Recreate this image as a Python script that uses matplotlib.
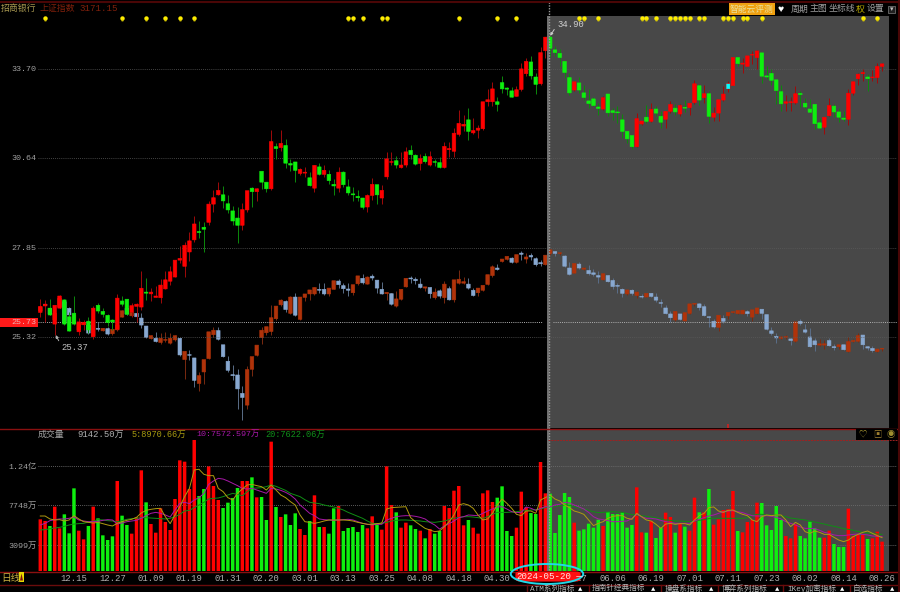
import matplotlib
matplotlib.use("Agg")
import matplotlib.pyplot as plt
import numpy as np
from matplotlib.lines import Line2D
from matplotlib.patches import Ellipse, Rectangle, FancyBboxPatch, Polygon
from matplotlib.transforms import blended_transform_factory

plt.rcParams['font.family'] = ['Liberation Mono', 'Noto Sans CJK SC', 'DejaVu Sans']

stock_open = [25.99,26.17,26.11,25.67,26.11,26.34,25.87,25.97,25.46,25.65,
25.75,25.33,26.19,26.02,25.91,25.78,25.53,26.31,26.36,26.00,
26.16,26.14,26.56,26.51,26.41,26.40,26.65,26.87,26.99,27.48,
27.30,27.72,28.08,28.33,28.46,28.61,29.17,29.46,29.46,29.18,
28.96,28.74,28.52,28.99,29.67,29.56,30.21,29.86,29.65,31.01,
30.98,31.05,30.46,30.51,30.14,30.15,30.00,29.67,30.35,30.11,
30.11,29.79,29.67,30.18,29.71,29.49,29.41,29.36,29.08,29.44,
29.78,29.36,30.03,30.50,30.55,30.33,30.41,30.89,30.73,30.46,
30.69,30.41,30.52,30.49,30.33,30.91,30.86,31.42,31.70,31.91,
31.47,31.56,31.61,32.53,32.53,32.53,33.20,33.01,32.91,32.72,
32.96,33.52,33.94,33.40,33.16,34.35,34.85,34.38,34.25,33.96,
33.38,32.94,33.19,32.84,32.56,32.63,32.35,32.28,32.80,32.22,
32.18,31.91,31.52,31.38,31.01,31.77,32.00,31.86,32.28,32.03,
31.93,32.20,32.31,32.11,32.34,32.33,32.50,33.09,32.67,32.81,
32.00,32.14,32.59,32.98,33.10,34.10,33.86,33.78,34.19,34.10,
34.27,33.44,33.53,33.30,32.88,32.48,32.50,32.49,32.82,32.48,
32.28,32.44,31.81,31.66,32.05,32.38,32.18,31.97,31.93,32.83,
33.34,33.52,33.40,33.38,33.38,33.78]
stock_close = [26.16,26.22,25.92,26.19,26.45,25.67,25.48,25.67,25.73,25.72,
25.51,26.11,26.03,25.94,25.71,25.73,26.39,26.22,25.94,26.18,
26.22,26.67,26.53,26.56,26.45,26.76,26.91,27.14,27.48,27.53,
27.92,28.05,28.56,28.30,28.40,29.17,29.37,29.60,29.27,28.99,
28.65,28.52,29.00,29.59,29.56,29.65,29.86,29.65,31.18,30.95,
31.12,30.47,30.41,30.24,30.27,30.18,29.75,30.40,30.11,30.24,
29.91,29.74,30.18,29.78,29.52,29.46,29.37,29.07,29.44,29.79,
29.46,29.60,30.61,30.52,30.41,30.41,30.84,30.75,30.44,30.62,
30.52,30.68,30.50,30.33,31.02,30.95,31.46,31.79,31.76,31.52,
31.55,31.63,32.53,32.60,32.98,32.44,32.98,32.97,32.69,32.95,
33.69,33.96,33.44,33.14,34.28,34.85,34.44,34.28,34.10,33.56,
32.84,33.23,32.94,32.68,32.47,32.40,32.30,32.67,32.15,32.16,
32.15,31.52,31.27,31.01,31.95,31.87,31.86,32.27,32.14,31.83,
32.20,32.44,32.18,32.40,32.31,32.48,33.16,32.59,32.81,32.03,
32.14,32.60,32.80,33.16,34.10,33.88,33.90,34.16,34.21,34.34,
33.43,33.40,33.28,32.92,32.46,32.53,32.53,32.81,32.78,32.35,
32.17,31.78,31.63,32.00,32.40,32.18,32.00,31.93,32.83,33.23,
33.50,33.56,33.34,33.40,33.78,33.87]
stock_high = [26.36,26.34,26.36,26.19,26.48,26.36,26.00,26.45,25.84,25.78,
25.86,26.16,26.25,26.11,25.94,25.81,26.51,26.45,26.37,26.25,
26.25,27.16,26.97,26.68,26.74,26.94,27.15,27.32,27.49,27.90,
28.01,28.31,28.80,28.66,28.61,29.27,29.60,29.85,29.74,29.44,
29.11,29.08,29.21,29.59,29.71,29.68,30.21,29.88,31.56,31.12,
31.57,31.26,30.60,30.51,30.30,30.35,30.18,30.40,30.49,30.40,
30.24,29.97,30.35,30.21,29.97,29.71,29.60,29.36,29.49,30.00,
29.78,29.78,30.84,30.84,30.69,30.84,31.01,31.08,30.78,30.78,
30.81,30.86,30.62,30.67,31.18,31.18,31.63,32.24,32.06,32.32,
31.97,31.74,32.53,32.96,33.23,32.69,33.44,33.05,33.05,33.08,
33.92,34.10,34.16,33.56,34.47,34.85,34.90,34.53,34.40,33.96,
33.56,33.23,33.40,33.11,32.96,32.69,32.49,32.73,32.80,32.32,
32.38,32.11,31.52,31.38,32.14,31.87,32.43,32.49,32.38,32.22,
32.20,32.57,32.47,32.46,32.60,32.48,33.31,33.16,33.11,32.92,
32.34,32.60,33.08,33.26,34.10,34.13,34.10,34.16,34.34,34.37,
34.27,33.80,33.68,33.30,33.11,32.78,32.69,33.08,32.92,32.67,
32.61,32.44,31.97,32.00,32.65,32.44,32.32,32.22,32.96,33.26,
33.56,33.68,33.52,33.64,33.92,33.92]
stock_low = [25.86,25.73,25.91,25.37,26.10,25.64,25.47,25.66,25.38,25.51,
25.43,25.27,25.97,25.86,25.62,25.51,25.51,26.16,25.91,25.86,
25.73,26.05,26.34,26.31,26.41,26.25,26.65,26.76,26.98,27.41,
26.98,27.45,28.01,28.13,27.73,28.52,28.94,29.44,29.06,28.88,
28.52,27.98,28.37,28.93,29.08,29.28,29.65,29.54,29.60,30.59,
30.86,30.30,30.21,29.86,30.10,30.03,29.74,29.56,30.08,30.03,
29.81,29.46,29.54,29.71,29.44,29.28,29.28,29.02,28.94,29.31,
29.17,29.17,29.97,30.41,30.30,30.30,30.35,30.62,30.41,30.26,
30.49,30.39,30.37,30.30,30.33,30.67,30.67,31.38,31.52,31.23,
31.42,31.29,31.57,32.38,32.38,32.20,32.84,32.75,32.69,32.72,
32.92,33.44,33.32,32.81,33.12,34.10,34.12,34.16,33.80,33.38,
32.75,32.90,32.84,32.60,32.32,32.38,32.06,32.26,32.05,31.91,
31.81,31.31,31.12,30.92,31.01,31.74,31.81,31.83,32.03,31.65,
31.65,32.14,32.08,32.03,32.18,32.08,32.46,32.41,32.49,31.81,
31.88,31.88,32.56,32.87,33.10,33.80,33.56,33.78,33.86,33.68,
33.19,33.32,33.11,32.46,32.20,32.22,32.22,32.46,32.34,32.32,
32.14,31.61,31.60,31.44,32.03,32.00,31.83,31.86,31.72,32.78,
33.12,33.26,32.90,33.26,33.20,33.60]

index_open = [2981,3002,2989,2952,2994,3010,2989,2942,2921,2938,
2936,2901,2926,2918,2925,2909,2921,2961,2989,2965,
2973,2958,2933,2894,2895,2882,2889,2880,2890,2895,
2830,2845,2835,2759,2793,2833,2906,2919,2875,2825,
2785,2784,2730,2696,2801,2843,2897,2912,2916,2956,
3000,3011,2973,3025,2954,3024,3035,3035,3050,3050,
3035,3050,3077,3062,3051,3039,3068,3086,3067,3093,
3080,3050,3036,3036,2996,3018,3058,3087,3083,3067,
3054,3056,3023,3045,3023,3052,3016,3070,3070,3067,
3047,3039,3047,3066,3095,3120,3142,3149,3153,3139,
3170,3150,3162,3151,3138,3131,3169,3175,3169,3160,
3120,3103,3133,3116,3112,3104,3095,3081,3095,3079,
3063,3050,3035,3047,3030,3027,3025,3037,3025,3007,
2990,2971,2952,2971,2949,2973,3002,3003,2994,2962,
2948,2929,2957,2965,2976,2972,2971,2978,2961,2972,
2986,2969,2918,2901,2895,2898,2893,2886,2948,2921,
2899,2887,2874,2874,2888,2869,2869,2875,2854,2885,
2886,2905,2869,2864,2854,2862]
index_close = [2992,2998,2971,2973,3021,2947,2968,2968,2942,2944,
2911,2952,2923,2926,2908,2923,2936,2981,2971,2976,
2962,2936,2898,2903,2885,2895,2891,2895,2903,2844,
2855,2843,2768,2782,2830,2915,2920,2892,2839,2798,
2782,2743,2718,2800,2839,2874,2920,2931,2959,2996,
3015,2985,3025,2967,3025,3035,3048,3056,3047,3035,
3054,3078,3065,3052,3047,3065,3094,3071,3090,3087,
3054,3035,3040,3002,3019,3050,3086,3084,3078,3056,
3058,3036,3041,3028,3067,3016,3081,3083,3075,3054,
3030,3054,3063,3098,3124,3115,3150,3159,3139,3165,
3166,3157,3157,3131,3134,3163,3181,3169,3171,3126,
3099,3135,3120,3120,3101,3099,3090,3101,3075,3059,
3060,3037,3048,3037,3041,3025,3037,3027,3015,3005,
2972,2959,2979,2954,2975,3003,3005,2991,2966,2960,
2930,2967,2948,2976,2978,2982,2983,2972,2984,2990,
2973,2923,2910,2896,2899,2900,2888,2946,2941,2914,
2869,2875,2878,2878,2872,2866,2875,2860,2885,2888,
2903,2875,2865,2857,2862,2864]
index_high = [3000,3007,2992,2978,3027,3016,2992,2973,2947,2947,
2940,2957,2947,2926,2929,2929,2942,2983,2992,2981,
2994,2975,2933,2905,2913,2911,2913,2911,2906,2895,
2855,2858,2835,2793,2830,2915,2931,2931,2875,2842,
2815,2801,2751,2810,2839,2874,2931,2931,3000,2996,
3018,3016,3027,3039,3025,3035,3048,3059,3070,3072,
3054,3078,3083,3070,3070,3065,3094,3100,3092,3101,
3081,3073,3040,3037,3043,3050,3086,3095,3090,3086,
3058,3059,3054,3050,3078,3061,3081,3112,3090,3086,
3054,3054,3063,3098,3131,3135,3150,3160,3157,3165,
3176,3171,3169,3156,3148,3165,3184,3176,3174,3162,
3141,3137,3140,3122,3131,3117,3109,3103,3098,3086,
3072,3054,3048,3050,3043,3035,3037,3039,3037,3019,
2998,2981,2979,2971,2975,3005,3007,3007,3003,2965,
2956,2969,2967,2978,2979,2983,2983,2983,2985,2990,
2986,2969,2929,2911,2901,2904,2895,2946,2956,2940,
2926,2897,2892,2890,2897,2877,2875,2875,2899,2892,
2911,2906,2872,2870,2862,2866]
index_low = [2973,2992,2968,2947,2989,2942,2963,2936,2916,2931,
2909,2899,2916,2918,2906,2906,2919,2960,2968,2963,
2947,2926,2895,2893,2882,2878,2885,2878,2888,2842,
2772,2830,2750,2738,2756,2833,2899,2890,2838,2793,
2768,2684,2655,2686,2782,2840,2878,2906,2906,2952,
2996,2978,2971,2963,2952,3013,3016,3032,3039,3032,
3027,3050,3054,3039,3029,3032,3065,3067,3066,3079,
3037,3035,3016,3000,2994,3016,3057,3072,3067,3054,
3043,3023,3020,3021,3005,3014,3010,3067,3067,3050,
3027,3027,3046,3065,3090,3114,3139,3148,3137,3137,
3148,3137,3148,3128,3126,3131,3165,3160,3165,3122,
3098,3103,3116,3114,3098,3095,3072,3079,3073,3050,
3039,3024,3033,3033,3021,3021,3024,3025,3010,2994,
2970,2947,2950,2952,2948,2971,2996,2985,2963,2929,
2926,2916,2942,2956,2974,2971,2970,2966,2948,2971,
2954,2921,2904,2880,2892,2892,2875,2885,2936,2911,
2868,2855,2870,2862,2870,2860,2862,2858,2852,2883,
2885,2862,2858,2854,2852,2855]

volume = [6107,5910,5319,7604,5043,6698,4452,9771,4767,3743,
5319,7604,6225,4216,3664,4098,10638,6540,5437,4413,
6343,11899,8116,5555,4531,7407,5792,4846,8510,13081,
12923,9692,15484,8865,9692,12372,10047,8392,7447,8077,
8629,9811,10638,10638,11071,8707,8747,6028,15287,7565,
6383,6698,5437,6816,4964,4255,5910,8944,5201,5201,
4413,7407,7683,4728,5083,5201,4610,5437,5043,6462,
5516,4886,12372,7801,6934,5122,5713,5398,4964,4767,
3861,4964,4413,4728,7683,7447,9495,10047,5398,6028,
5122,4413,9180,9535,8156,8668,10008,4728,4137,5122,
9377,7525,6856,6737,12884,9180,9142.5,4492,6619,9220,
8747,5713,4767,4925,5595,5122,6068,5319,6974,6737,
6737,6895,5122,5437,9889,4570,4531,5910,3901,5122,
6895,6383,4531,5555,5240,4767,8668,6934,6934,9692,
5477,6107,7210,7289,9456,4728,4570,5792,6028,8077,
8038,5398,4846,7683,6028,4137,3861,5516,4137,3861,
5831,5043,3940,3940,4767,3191,2837,2837,7368,4137,
4255,4255,3782,3861,4649,3467]
vol_ma5 = [6500,6500,6150,6030,6070,5910,6030,6540,6150,5830,
5750,5670,5750,5600,5440,5320,5630,5830,5990,6110,
6340,6860,7170,7290,7370,7410,6420,5600,6620,7600,
8790,9770,11940,12020,11430,11270,11270,9770,9380,8670,
8390,9180,9690,10170,10240,10090,9970,9570,10170,9570,
8980,8670,8200,7800,6620,5830,5750,5630,5750,5910,
6030,6030,6030,6030,5990,5910,5750,5630,5520,5520,
5600,5670,7330,7490,7530,7570,7600,6300,5830,5440,
5040,4850,4650,4730,5240,5830,6620,7800,7960,7800,
7410,6620,6030,6150,6820,7800,8510,8000,7410,6700,
6540,7090,7090,6820,8390,8670,8970.66,8510,8270,7800,
7490,7090,6930,6700,6030,5360,5630,5830,6230,6460,
6540,6540,6230,6110,6820,6420,6030,5910,5520,5040,
5550,5630,5520,5600,5600,5440,6030,6540,6820,7490,
7570,7090,6930,7170,7210,6930,6700,6540,6030,5830,
6420,6620,6540,6620,6620,6030,5240,5750,5440,4650,
4450,4730,4570,4330,4330,3980,3660,3470,3660,4060,
4330,4570,4730,4450,4180,3940]
vol_ma10 = [5440,5630,5950,6070,6150,6150,6230,6380,6030,5910,
5830,5830,5870,5990,6070,6030,5550,5670,5830,5910,
5990,6230,6540,6820,6930,6820,6620,6380,7210,8000,
8120,7960,8390,8670,9180,10240,10640,10950,10870,10640,
10360,10090,9770,9690,9770,9570,9380,9180,9770,9690,
9530,9300,8980,8510,7800,7330,6820,6540,6150,6070,
6030,5990,6030,6070,6110,6030,5830,5630,5520,5440,
5520,5520,6030,6230,6420,6500,6540,6540,6460,6340,
6150,5750,5440,4960,5320,5600,5910,6300,6420,6620,
6580,6540,6820,7090,7330,7570,7600,7330,7010,6900,
6930,7570,7410,7170,7410,7600,7572.6,7800,7880,8120,
8040,7800,7570,7330,6930,6420,6150,6070,5950,5830,
5830,5870,5910,6230,6700,6420,6230,6230,6150,5990,
5830,5750,5630,5630,5630,5630,5910,6110,6300,6500,
6620,6820,7010,7090,7130,7010,6900,6700,6540,6500,
6500,6540,6460,6340,6150,5830,5630,5440,5200,5040,
5040,5000,4810,4570,4450,4260,4180,4180,4260,4330,
4370,4330,4260,4140,4100,4060]
vol_ma20 = [4850,4890,5000,5080,5160,5280,5440,5550,5600,5630,
5790,5910,6070,6030,5950,5910,5830,5950,6110,6190,
6230,6300,6300,6260,6230,6190,6150,6230,6420,6700,
7090,7170,7490,7800,8120,8510,8590,8630,8790,8980,
9180,9060,8900,9380,9770,9810,9850,9970,10170,10010,
9770,9530,9180,8980,8790,8430,8120,8040,7960,7800,
7680,7570,7410,7210,6930,6700,6460,6230,5910,5630,
5600,5630,5750,5910,5990,6030,6030,5990,5950,5910,
5830,5790,5750,5830,5910,6070,6230,6340,6420,6420,
6380,6300,6230,6420,6700,6930,6930,6930,6970,7010,
7090,7130,7210,7250,7330,7490,7622.06,7640,7720,7800,
7760,7600,7490,7330,7170,7010,6900,6930,6970,7010,
6970,6930,6780,6660,6620,6540,6460,6380,6300,6150,
6030,5990,5910,5910,5870,5830,5910,5990,6070,6190,
6230,6230,6230,6230,6230,6230,6230,6300,6540,6700,
6700,6620,6620,6620,6540,6420,6260,6190,6110,6030,
5910,5790,5670,5550,5400,5280,5160,5000,4930,4810,
4690,4570,4490,4450,4370,4330]

date_labels = ['12.15','12.27','01.09','01.19','01.31','02.20','03.01','03.13','03.25','04.08','04.18',
               '04.30','','05.27','06.06','06.19','07.01','07.11','07.23','08.02','08.14','08.26']
date_ticks = list(range(7, 176, 8))
price_ticks = [25.32, 27.85, 30.64, 33.70]
price_labels = ['25.32', '27.85', '30.64', '33.70']
vol_ticks = [3099, 7748, 12400]
vol_labels = ['3099万', '7748万', '1.24亿']
signal_days = [1,17,22,26,29,32,64,65,67,71,72,87,95,99,112,113,116,125,126,128,131,132,133,134,135,
               137,138,142,143,144,146,147,150,171,174]
cyan_days = [143]
current_price = 25.73
cursor_day = 106
index_ratio = 2899 / 25.32

W, H = 900.0, 592.0
def fx(p): return p / W
def fy(p): return 1 - p / H

fig = plt.figure(figsize=(9, 5.92), dpi=100, facecolor='black')

def make_axes(top, bottom):
    a = fig.add_axes([fx(38), fy(bottom), (897 - 38) / W, (bottom - top) / H])
    a.set_facecolor('black')
    for s in a.spines.values():
        s.set_visible(False)
    return a

XL = ((38 - 40.3) / 4.81, (897 - 40.3) / 4.81)
GRAY0, GRAY1 = (547.3 - 40.3) / 4.81, (889 - 40.3) / 4.81
TOP, BOT = 3, 428

# index panel underneath, stock panel on top
ax_i = make_axes(TOP, BOT)
ax_i.set_yscale('log')
ax_i.set_xlim(*XL)
ylim = (22.98, 36.14)
ax_i.set_ylim(ylim[0] * index_ratio, ylim[1] * index_ratio)
ax_i.set_xticks([])
ax_i.yaxis.set_major_locator(plt.NullLocator())
ax_i.yaxis.set_minor_locator(plt.NullLocator())
ax_i.axvspan(GRAY0, GRAY1, ymin=0, ymax=(BOT - 16) / (BOT - TOP), color='#484848', lw=0, zorder=0)

ax = make_axes(TOP, BOT)
ax.patch.set_visible(False)
ax.set_yscale('log')
ax.set_xlim(*XL)
ax.set_ylim(*ylim)
ax.set_xticks([])
ax.yaxis.set_minor_locator(plt.NullLocator())
ax.set_yticks(price_ticks)
ax.set_yticklabels(price_labels)
ax.tick_params(axis='y', length=0, pad=1.2, labelsize=6.0, labelcolor='#a0a0a0')
ax.hlines(price_ticks, XL[0], XL[1], colors='#5a5a5a', linestyles=(0, (1, 1.5)), lw=0.6, zorder=1)

def candles(a, o, h, l, c, up, down, wup, wdown, z):
    o, h, l, c = map(np.asarray, (o, h, l, c))
    x = np.arange(len(o))
    isup = c >= o
    a.vlines(x, l, h, colors=[wup if u else wdown for u in isup], lw=0.7, zorder=z)
    bars = a.bar(x, np.abs(c - o), bottom=np.minimum(o, c), width=0.75,
                 color=[up if u else down for u in isup],
                 edgecolor=[up if u else down for u in isup], lw=0.4, zorder=z + 0.1)
    for b in bars:
        b.set_snap(False)

candles(ax_i, index_open, index_high, index_low, index_close, '#b0330a', '#88a8d0', '#7a2a10', '#5a6e88', 2)
candles(ax, stock_open, stock_high, stock_low, stock_close, '#ff0000', '#0ef00e', '#a00a0a', '#0c8a0c', 3)
for d in cyan_days:
    cy = ax.bar(d, stock_close[d] - stock_open[d], bottom=stock_open[d], width=0.75, color='#00ffff', zorder=3.2)
    cy[0].set_snap(False)

# current price line with gap around the cursor
ax.hlines(current_price, XL[0], 104.3, colors='#b0b0b0', linestyles=(0, (1, 1.2)), lw=0.7, zorder=2.5)
ax.hlines(current_price, 106.6, XL[1], colors='#b0b0b0', linestyles=(0, (1, 1.2)), lw=0.7, zorder=2.5)

# signals
tr = blended_transform_factory(ax.transData, ax.transAxes)
sy = 1 - (18.3 - TOP) / (BOT - TOP)
ax.plot(signal_days, [sy] * len(signal_days), ls='', marker='o', ms=3.2, mfc='#ffee00', mec='#ffee00', mew=0, transform=tr, zorder=5)
ax.plot(signal_days, [sy - 2.0 / (BOT - TOP)] * len(signal_days), ls='', marker='s', ms=1.3, mfc='#d8c800', mew=0, transform=tr, zorder=5)
ax.plot([143], [1 - (425.5 - TOP) / (BOT - TOP)], ls='', marker='|', ms=3, color='#d02020', mew=1.2, transform=tr, zorder=5)

# extreme annotations
ax.annotate('25.37', xy=(3.2, 25.37), xycoords='data', xytext=(61.5 / W, fy(347)), textcoords='figure fraction',
            fontsize=6.4, color='#c0c0c0', va='center', ha='left',
            arrowprops=dict(arrowstyle='-|>', color='#b0b0b0', lw=0.7, mutation_scale=4, shrinkA=0, shrinkB=0,
                            relpos=(-0.05, 0.9)), zorder=6)
ax.annotate('34.90', xy=(106, 34.90), xycoords='data', xytext=(557 / W, fy(24.5)), textcoords='figure fraction',
            fontsize=6.4, color='#d0d0d0', va='center', ha='left',
            arrowprops=dict(arrowstyle='-|>', color='#c8c8c8', lw=0.7, mutation_scale=4, shrinkA=0, shrinkB=0,
                            relpos=(-0.05, 0.2)), zorder=6)

# volume panel
vax = make_axes(430, 571)
vax.set_xlim(*XL)
vax.set_ylim(0, 141 * 118.2)
vax.axvspan(GRAY0, GRAY1, color='#484848', lw=0, zorder=0)
x = np.arange(len(volume))
bar_cols = ['#ff0000' if c >= o else '#0ef00e' for o, c in zip(stock_open, stock_close)]
vbars = vax.bar(x, volume, width=0.72, color=bar_cols, lw=0, zorder=2)
for b in vbars:
    b.set_snap(False)
vax.hlines(vol_ticks, XL[0], XL[1], colors='#6a6a6a', linestyles=(0, (1, 1.5)), lw=0.6, zorder=1)
vax.hlines(vol_ticks, XL[0], XL[1], colors='#7a7a7a', linestyles=(0, (1, 2)), lw=0.5, zorder=2.1, alpha=0.5)
vax.plot(x, vol_ma20, color='#0f8f14', lw=0.7, zorder=3)
vax.plot(x, vol_ma10, color='#a818a8', lw=0.7, zorder=3.1)
vax.plot(x, vol_ma5, color='#b09a10', lw=0.7, zorder=3.2)
vax.set_yticks(vol_ticks)
vax.set_yticklabels(vol_labels)
vax.tick_params(axis='y', length=0, pad=0.8, labelsize=6.0, labelcolor='#a0a0a0')
vax.set_xticks(date_ticks)
vax.set_xticklabels(date_labels)
vax.tick_params(axis='x', length=0, pad=2.2, labelsize=6.4, labelcolor='#b0b0b0')

# cursor line across both panels
fig.add_artist(Line2D([fx(549.3)] * 2, [fy(2), fy(571)], color='#9a9a9a', lw=1.0, ls=(0, (1, 1)), zorder=8))
fig.add_artist(Rectangle((fx(547.3), fy(571)), 2.0 / W, 555 / H, transform=fig.transFigure, color='#6e6e6e', lw=0, zorder=7))

# dividers
for yy, x0, x1, lw, c in [(2, 0, 900, 1.5, '#4a0606'), (429, 0, 897, 1.0, '#8a1010'), (571.5, 0, 897, 1.0, '#8a1010'),
                          (585, 0, 900, 1.0, '#6a0c0c')]:
    fig.add_artist(Line2D([fx(x0), fx(x1)], [fy(yy)] * 2, color=c, lw=lw, zorder=9))
fig.add_artist(Line2D([fx(548), fx(897)], [fy(440)] * 2, color='#a02020', lw=0.7, ls=(0, (2, 1)), zorder=9))
fig.add_artist(Line2D([fx(899)] * 2, [0, 1], color='#4a0606', lw=1.5, zorder=9))

def T(px, py, s, color='#a0a0a0', size=6.4, ha='left', va='center', **kw):
    return fig.text(fx(px), fy(py), s, color=color, fontsize=size, ha=ha, va=va, zorder=12, **kw)

# header
T(1, 8.3, '招商银行', '#a89850', 6.4)
T(40, 8.3, '上证指数', '#80200c', 6.4)
T(79, 8.3, '3171.15', '#80200c', 6.6)
# current price tag
fig.add_artist(Rectangle((0, fy(327)), 37.5 / W, 9.5 / H, transform=fig.transFigure, color='#ff1a1a', lw=0, zorder=10))
T(36.5, 322.3, '25.73', '#f0b0b0', 6.0, ha='right')
# top right toolbar
fig.add_artist(Rectangle((fx(729), fy(15)), 46 / W, 12 / H, transform=fig.transFigure, color='#f0a010', lw=0, zorder=10))
T(752, 9, '智能云评测', '#e8e0a0', 6.3, ha='center')
T(781, 9, '♥', '#ffffff', 7.5, ha='center')
T(791, 9, '周期', size=6.4)
T(810, 9, '主图', size=6.4)
T(829, 9, '坐标线', size=6.4)
T(856, 9, '权', '#c0b000', 6.4)
T(867, 9, '设置', size=6.4)
fig.add_artist(Rectangle((fx(888), fy(13)), 7 / W, 7 / H, transform=fig.transFigure, fc='#202020', ec='#808080', lw=0.5, zorder=10))
T(891.5, 9.5, '▾', '#c0c0c0', 5, ha='center')

# volume header
T(38, 434.5, '成交量', '#a0a0a0', 6.4)
T(77, 434.5, '9142.50万', '#b0b0b0', 6.4)
T(131.5, 434.5, '5:8970.66万', '#a89a10', 6.2)
T(196.5, 434.5, '10:7572.597万', '#a818a8', 6.0)
T(265, 434.5, '20:7622.06万', '#10901a', 6.2)
# volume icon strip
fig.add_artist(Rectangle((fx(856), fy(440)), 41 / W, 11 / H, transform=fig.transFigure, color='#000000', lw=0, zorder=10))
T(863, 434.5, '♡', '#a09030', 6, ha='center')
T(877, 434.5, '▣', '#a08030', 6, ha='center')
T(891, 434.5, '◉', '#a09030', 6, ha='center')

# bottom left
T(1, 577.5, '日线', '#c8b040', 7)
fig.add_artist(Rectangle((fx(19), fy(582)), 5 / W, 10 / H, transform=fig.transFigure, color='#e8d800', lw=0, zorder=10))
fig.add_artist(Polygon([[fx(21.5), fy(573.5)], [fx(20), fy(580.5)], [fx(23), fy(580.5)]], closed=True,
                       transform=fig.transFigure, color='#801010', lw=0, zorder=11))

# cursor date label
fig.add_artist(FancyBboxPatch((fx(519), fy(580)), 58 / W, 7 / H, boxstyle='round,pad=0.004,rounding_size=0.006',
                              transform=fig.transFigure, fc='#ff1010', ec='#ff1010', lw=0, zorder=10, mutation_aspect=0.66))
T(544, 576.7, '2024-05-20', '#ffe8e8', 6.6, ha='center')
T(579, 576.5, '一', '#ffd0d0', 5, ha='center')
fig.add_artist(Ellipse((fx(547), fy(574)), 72.5 / W, 20 / H, transform=fig.transFigure, fc='none', ec='#20d8e8', lw=1.4, zorder=11))

# bottom tabs
tabs = [(530, 'ATM系列指标', 580), (592, '指南针经典指标', 653), (665, '操盘系指标', 711),
        (722, '博弈系列指标', 777), (787, 'IKey加密指标', 842), (853, '自选指标', 892)]
for x0, s, tri in tabs:
    T(x0, 588.7, s, '#b8b8b8', 5.5)
    T(tri, 588.7, '▲', '#ffffff', 5.2, ha='center')
for xd in [527, 589, 661, 718, 783, 850]:
    fig.add_artist(Line2D([fx(xd)] * 2, [fy(585), 0], color='#6a0c0c', lw=1, zorder=9))

fig.savefig('out.png', dpi=100, facecolor='black')
